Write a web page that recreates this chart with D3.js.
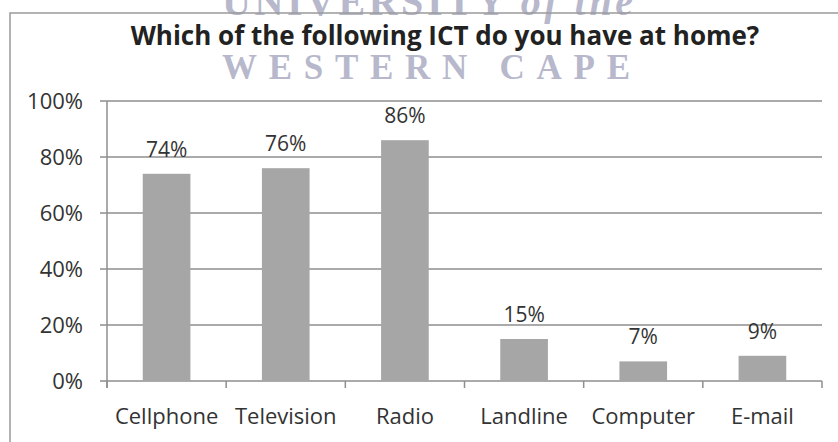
<!DOCTYPE html>
<html>
<head>
<meta charset="utf-8">
<script src="https://cdn.jsdelivr.net/npm/d3@7"></script>
<style>
    body { margin: 0; background: #fff; }
    svg { display: block; }
</style>
</head>
<body>
<div id="chart"></div>
<script>
// Data
const categories = ['Cellphone', 'Television', 'Radio', 'Landline', 'Computer', 'E-mail'];
const values = [74, 76, 86, 15, 7, 9];
const yTicks = [0, 20, 40, 60, 80, 100];
const title = 'Which of the following ICT do you have at home?';

const width = 838, height = 442;
const margin = { top: 101, right: 16, bottom: 61, left: 107 };
const plotW = width - margin.left - margin.right,
    plotH = height - margin.top - margin.bottom;
const sans = '"Open Sans", sans-serif';

const svg = d3.select('#chart').append('svg')
    .attr('width', width).attr('height', height)
    .style('font-family', sans);

// watermark from the scanned page
const serif = '"Liberation Serif", "DejaVu Serif", serif';
const wm1 = svg.append('text')
    .attr('x', 222).attr('y', 15)
    .attr('fill', '#b7b8cc')
    .attr('textLength', 411).attr('lengthAdjust', 'spacing')
    .style('font-family', serif)
    .style('font-weight', 'bold')
    .style('font-size', '40px');
wm1.append('tspan').text('UNIVERSITY ');
wm1.append('tspan').style('font-style', 'italic').text('of the');
svg.append('text')
    .attr('x', 222).attr('y', 79)
    .attr('fill', '#b7b8cc')
    .attr('textLength', 408).attr('lengthAdjust', 'spacing')
    .style('font-family', serif)
    .style('font-weight', 'bold')
    .style('font-size', '35px')
    .text('WESTERN CAPE');

// frame of the chart area
svg.append('path')
    .attr('d', `M10,${height}V13H${width}`)
    .attr('fill', 'none')
    .attr('stroke', '#9a9a9a')
    .attr('stroke-width', 1.5);

svg.append('text')
    .attr('x', 445).attr('y', 45)
    .attr('text-anchor', 'middle')
    .attr('fill', '#222')
    .style('font-size', '26px')
    .style('font-weight', 'bold')
    .text(title);

const chart = svg.append('g')
    .attr('transform', `translate(${margin.left},${margin.top})`);

const x = d3.scaleBand(categories, [0, plotW]).paddingInner(0.6).paddingOuter(0.3);
const y = d3.scaleLinear([0, 100], [plotH, 0]);

// horizontal gridlines
chart.append('g').selectAll('line')
    .data(yTicks)
    .join('line')
    .attr('x1', -7).attr('x2', plotW)
    .attr('y1', d => y(d)).attr('y2', d => y(d))
    .attr('stroke', '#8e8e8e')
    .attr('stroke-width', 1.5);

// y axis
const axisY = chart.append('g')
    .call(d3.axisLeft(y).tickValues(yTicks).tickSize(7).tickPadding(17)
        .tickFormat(d => d + '%'));
axisY.select('.domain').attr('stroke', '#8e8e8e').attr('stroke-width', 1.5)
    .attr('d', `M0,0V${plotH + 7}`);
axisY.selectAll('.tick line').remove();
axisY.selectAll('.tick text')
    .attr('fill', '#333')
    .style('font-size', '22px')
    .style('font-family', sans);

// category separators on the x axis
const gap = (x.step() - x.bandwidth()) / 2;
const bounds = categories.map(c => x(c) - gap).concat([plotW]);
chart.append('g').selectAll('line')
    .data(bounds)
    .join('line')
    .attr('x1', d => d).attr('x2', d => d)
    .attr('y1', plotH).attr('y2', plotH + 7)
    .attr('stroke', '#8e8e8e')
    .attr('stroke-width', 1.5);

const axisX = chart.append('g')
    .attr('transform', `translate(0,${plotH})`)
    .call(d3.axisBottom(x).tickSize(0).tickPadding(27));
axisX.select('.domain').remove();
axisX.selectAll('.tick text')
    .attr('fill', '#333')
    .style('font-size', '22px')
    .style('font-family', sans);

const data = categories.map((c, i) => [c, values[i]]);

chart.selectAll('rect.bar')
    .data(data)
    .join('rect')
    .classed('bar', true)
    .attr('x', d => x(d[0]))
    .attr('y', d => y(d[1]))
    .attr('width', x.bandwidth())
    .attr('height', d => y(0) - y(d[1]))
    .attr('fill', '#a6a6a6');

chart.selectAll('text.val')
    .data(data)
    .join('text')
    .classed('val', true)
    .attr('x', d => x(d[0]) + x.bandwidth() / 2)
    .attr('y', d => y(d[1]) - 17)
    .attr('text-anchor', 'middle')
    .attr('fill', '#333')
    .style('font-size', '21px')
    .text(d => d[1] + '%');
</script>
</body>
</html>
